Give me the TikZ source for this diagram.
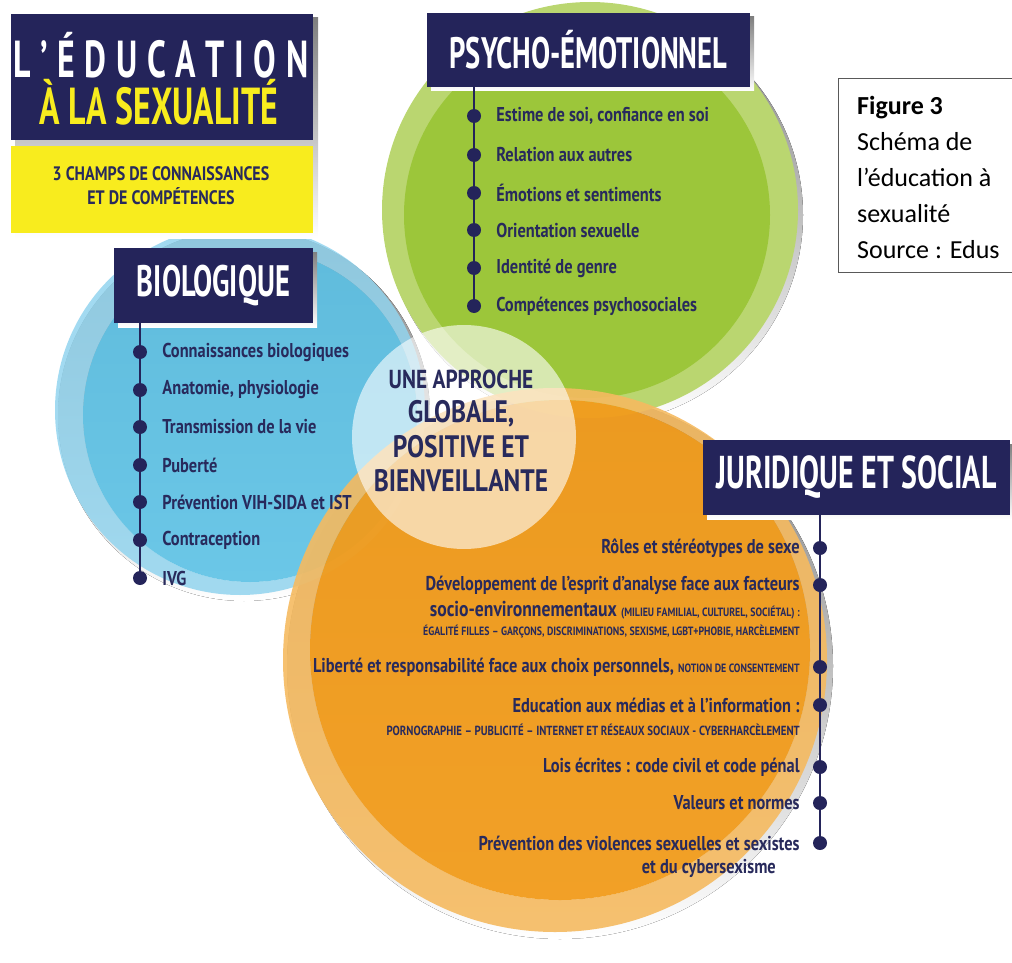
\documentclass[tikz,border=0pt]{standalone}
\usepackage{fontspec}
\usetikzlibrary{positioning}
\newfontfamily\dinfont[FakeStretch=0.82]{PT Sans}
\newfontfamily\titlefont[FakeStretch=0.65]{PT Sans}
\newfontfamily\capfont{Carlito}
\definecolor{navy}{RGB}{36,36,90}
\definecolor{inkblue}{RGB}{40,42,92}
\definecolor{greenin}{RGB}{156,198,58}
\definecolor{greenout}{RGB}{186,214,112}
\definecolor{bluein}{RGB}{92,194,230}
\definecolor{blueout}{RGB}{146,212,238}
\definecolor{orangein}{RGB}{242,156,28}
\definecolor{orangeout}{RGB}{245,186,96}
\definecolor{titleyellow}{RGB}{248,236,30}
\definecolor{shade}{RGB}{224,226,234}

\begin{document}
\begin{tikzpicture}[x=1pt,y=-1pt,
    head/.style={fill=navy, text=white, font=\titlefont\bfseries\fontsize{44}{46}\selectfont, minimum height=75pt, inner sep=0pt},
    dot/.style={circle, fill=navy, minimum size=14pt, inner sep=0pt},
    item/.style={text=inkblue, font=\dinfont\bfseries\fontsize{20}{22}\selectfont, inner sep=0pt},
    stem/.style={draw=navy, line width=2.8pt}]

    \useasboundingbox (0,0) rectangle (1012,963);
    \clip (0,0) rectangle (1012,963);

    % --- Ombres ---
    \fill[shade] (594,215) circle (209);
    \fill[shade] (244,415) circle (186);
    \fill[shade] (560,666) circle (273);

    % --- Cercle psycho-emotionnel ---
    \fill[greenout] (590,210) circle (208);
    \fill[greenin] (587,215) circle (183);

    % --- Cercle biologique ---
    \fill[blueout, fill opacity=0.85, even odd rule] (240,410) circle (185) (250,415) circle (167);
    \fill[bluein, fill opacity=0.9] (250,415) circle (167);

    % --- Cercle juridique et social ---
    \fill[orangeout, fill opacity=0.9, even odd rule] (555,660) circle (272) (560,650) circle (250);
    \fill[orangein, fill opacity=0.95] (560,650) circle (250);

    % Cercle central
    \fill[white, fill opacity=0.6] (464,437) circle (112);

    % --- Titre ---
    \fill[shade] (15,18) rectangle (318,238);
    \node[fill=navy, minimum width=302pt, minimum height=126pt, inner sep=0pt] (titre) at (162,77) {};
    \node[fill=titleyellow, minimum width=302pt, minimum height=87pt, inner sep=0pt] (soustitre) at (162,189.5) {};
    \node[text=white, font=\titlefont\bfseries\fontsize{52}{54}\selectfont, inner sep=0pt] (titre1) at (161,55)
        {\makebox[295pt][s]{L\hfill’\hfill É\hfill D\hfill U\hfill C\hfill A\hfill T\hfill I\hfill O\hfill N}};
    \node[text=titleyellow, font=\titlefont\bfseries\fontsize{52}{54}\selectfont, inner sep=0pt] (titre2) at (159,102) {À LA SEXUALITÉ};
    \node[text=inkblue, font=\dinfont\bfseries\fontsize{19.5}{24}\selectfont, align=center, inner sep=0pt] (champs) at (161,186)
        {3 CHAMPS DE CONNAISSANCES\\ET DE COMPÉTENCES};

    % --- Psycho-emotionnel ---
    \fill[shade] (431,17) rectangle (754,91);
    \node[head, minimum width=323pt, minimum height=74pt] (psyT) at (588.5,50) {PSYCHO-ÉMOTIONNEL};
    \node[dot] (p1) at (474,116) {};
    \node[dot] (p2) at (474,155) {};
    \node[dot] (p3) at (474,193) {};
    \node[dot] (p4) at (474,230) {};
    \node[dot] (p5) at (474,268) {};
    \node[dot] (p6) at (474,306) {};
    \draw[stem] (psyT.south -| p6) -- (p6);
    \node[item, right=15pt of p1] (pt1) {Estime de soi, confiance en soi};
    \node[item, right=15pt of p2] (pt2) {Relation aux autres};
    \node[item, right=15pt of p3] (pt3) {Émotions et sentiments};
    \node[item, right=15pt of p4] (pt4) {Orientation sexuelle};
    \node[item, right=15pt of p5] (pt5) {Identité de genre};
    \node[item, right=15pt of p6] (pt6) {Compétences psychosociales};

    % --- Biologique ---
    \fill[shade] (118,252) rectangle (317,327);
    \node[head, minimum width=199pt, minimum height=75pt] (bioT) at (213.5,285.5) {BIOLOGIQUE};
    \node[dot] (b1) at (140,352) {};
    \node[dot] (b2) at (140,390) {};
    \node[dot] (b3) at (140,427) {};
    \node[dot] (b4) at (140,465) {};
    \node[dot] (b5) at (140,502) {};
    \node[dot] (b6) at (140,540) {};
    \node[dot] (b7) at (140,578) {};
    \draw[stem] (bioT.south -| b7) -- (b7);
    \node[item, right=15pt of b1] (bt1) {Connaissances biologiques};
    \node[item, right=15pt of b2] (bt2) {Anatomie, physiologie};
    \node[item, right=15pt of b3] (bt3) {Transmission de la vie};
    \node[item, right=15pt of b4] (bt4) {Puberté};
    \node[item, right=15pt of b5] (bt5) {Prévention VIH-SIDA et IST};
    \node[item, right=15pt of b6] (bt6) {Contraception};
    \node[item, right=15pt of b7] (bt7) {IVG};

    % --- Approche globale ---
    \node[text=inkblue, font=\dinfont\bfseries\fontsize{31}{34.5}\selectfont, align=center, inner sep=0pt] (approche) at (461,431)
        {{\fontsize{26}{34.5}\selectfont UNE APPROCHE}\\GLOBALE,\\POSITIVE ET\\BIENVEILLANTE};

    % --- Juridique et social ---
    \fill[shade] (707,444) rectangle (1014,519);
    \node[head, minimum width=307pt, minimum height=75pt, font=\titlefont\bfseries\fontsize{46}{48}\selectfont] (jurT) at (856.5,477.5) {JURIDIQUE ET SOCIAL};
    \node[dot] (j1) at (820,548) {};
    \node[dot] (j2) at (820,585) {};
    \node[dot] (j3) at (820,667) {};
    \node[dot] (j4) at (820,705) {};
    \node[dot] (j5) at (820,767) {};
    \node[dot] (j6) at (820,803) {};
    \node[dot] (j7) at (820,843) {};
    \draw[stem] (jurT.south -| j7) -- (j7);
    \node[item, left=13pt of j1] (jt1) {Rôles et stéréotypes de sexe};
    \node[item, left=13pt of j2] (jt2) {Développement de l’esprit d’analyse face aux facteurs};
    \node[item, anchor=east] (jt2b) at (800,610)
        {{\fontsize{21.5}{22}\selectfont socio-environnementaux} {\fontsize{12}{13}\selectfont (MILIEU FAMILIAL, CULTUREL, SOCIÉTAL) :}};
    \node[item, anchor=east, font=\dinfont\bfseries\fontsize{12}{13}\selectfont] (jt2c) at (800,632)
        {ÉGALITÉ FILLES – GARÇONS, DISCRIMINATIONS, SEXISME, LGBT+PHOBIE, HARCÈLEMENT};
    \node[item, left=13pt of j3] (jt3)
        {Liberté et responsabilité face aux choix personnels, {\fontsize{12}{13}\selectfont NOTION DE CONSENTEMENT}};
    \node[item, left=13pt of j4] (jt4) {Education aux médias et à l’information :};
    \node[item, anchor=east, font=\dinfont\bfseries\fontsize{13.2}{14}\selectfont] (jt4b) at (800,730)
        {PORNOGRAPHIE – PUBLICITÉ – INTERNET ET RÉSEAUX SOCIAUX - CYBERHARCÈLEMENT};
    \node[item, left=13pt of j5] (jt5) {Lois écrites : code civil et code pénal};
    \node[item, left=13pt of j6] (jt6) {Valeurs et normes};
    \node[item, left=13pt of j7] (jt7) {Prévention des violences sexuelles et sexistes};
    \node[item, anchor=east] (jt7b) at (776,868) {et du cybersexisme};

    % --- Legende ---
    \draw[black!65, line width=1pt] (838,79) rectangle (1040,272);
    \node[anchor=north west, align=left, font=\capfont\fontsize{26}{36}\selectfont, inner sep=0pt] (legende) at (857,96)
        {\textbf{Figure 3}\\Schéma de\\l’éducation à\\sexualité\\Source : Edus};
\end{tikzpicture}
\end{document}
